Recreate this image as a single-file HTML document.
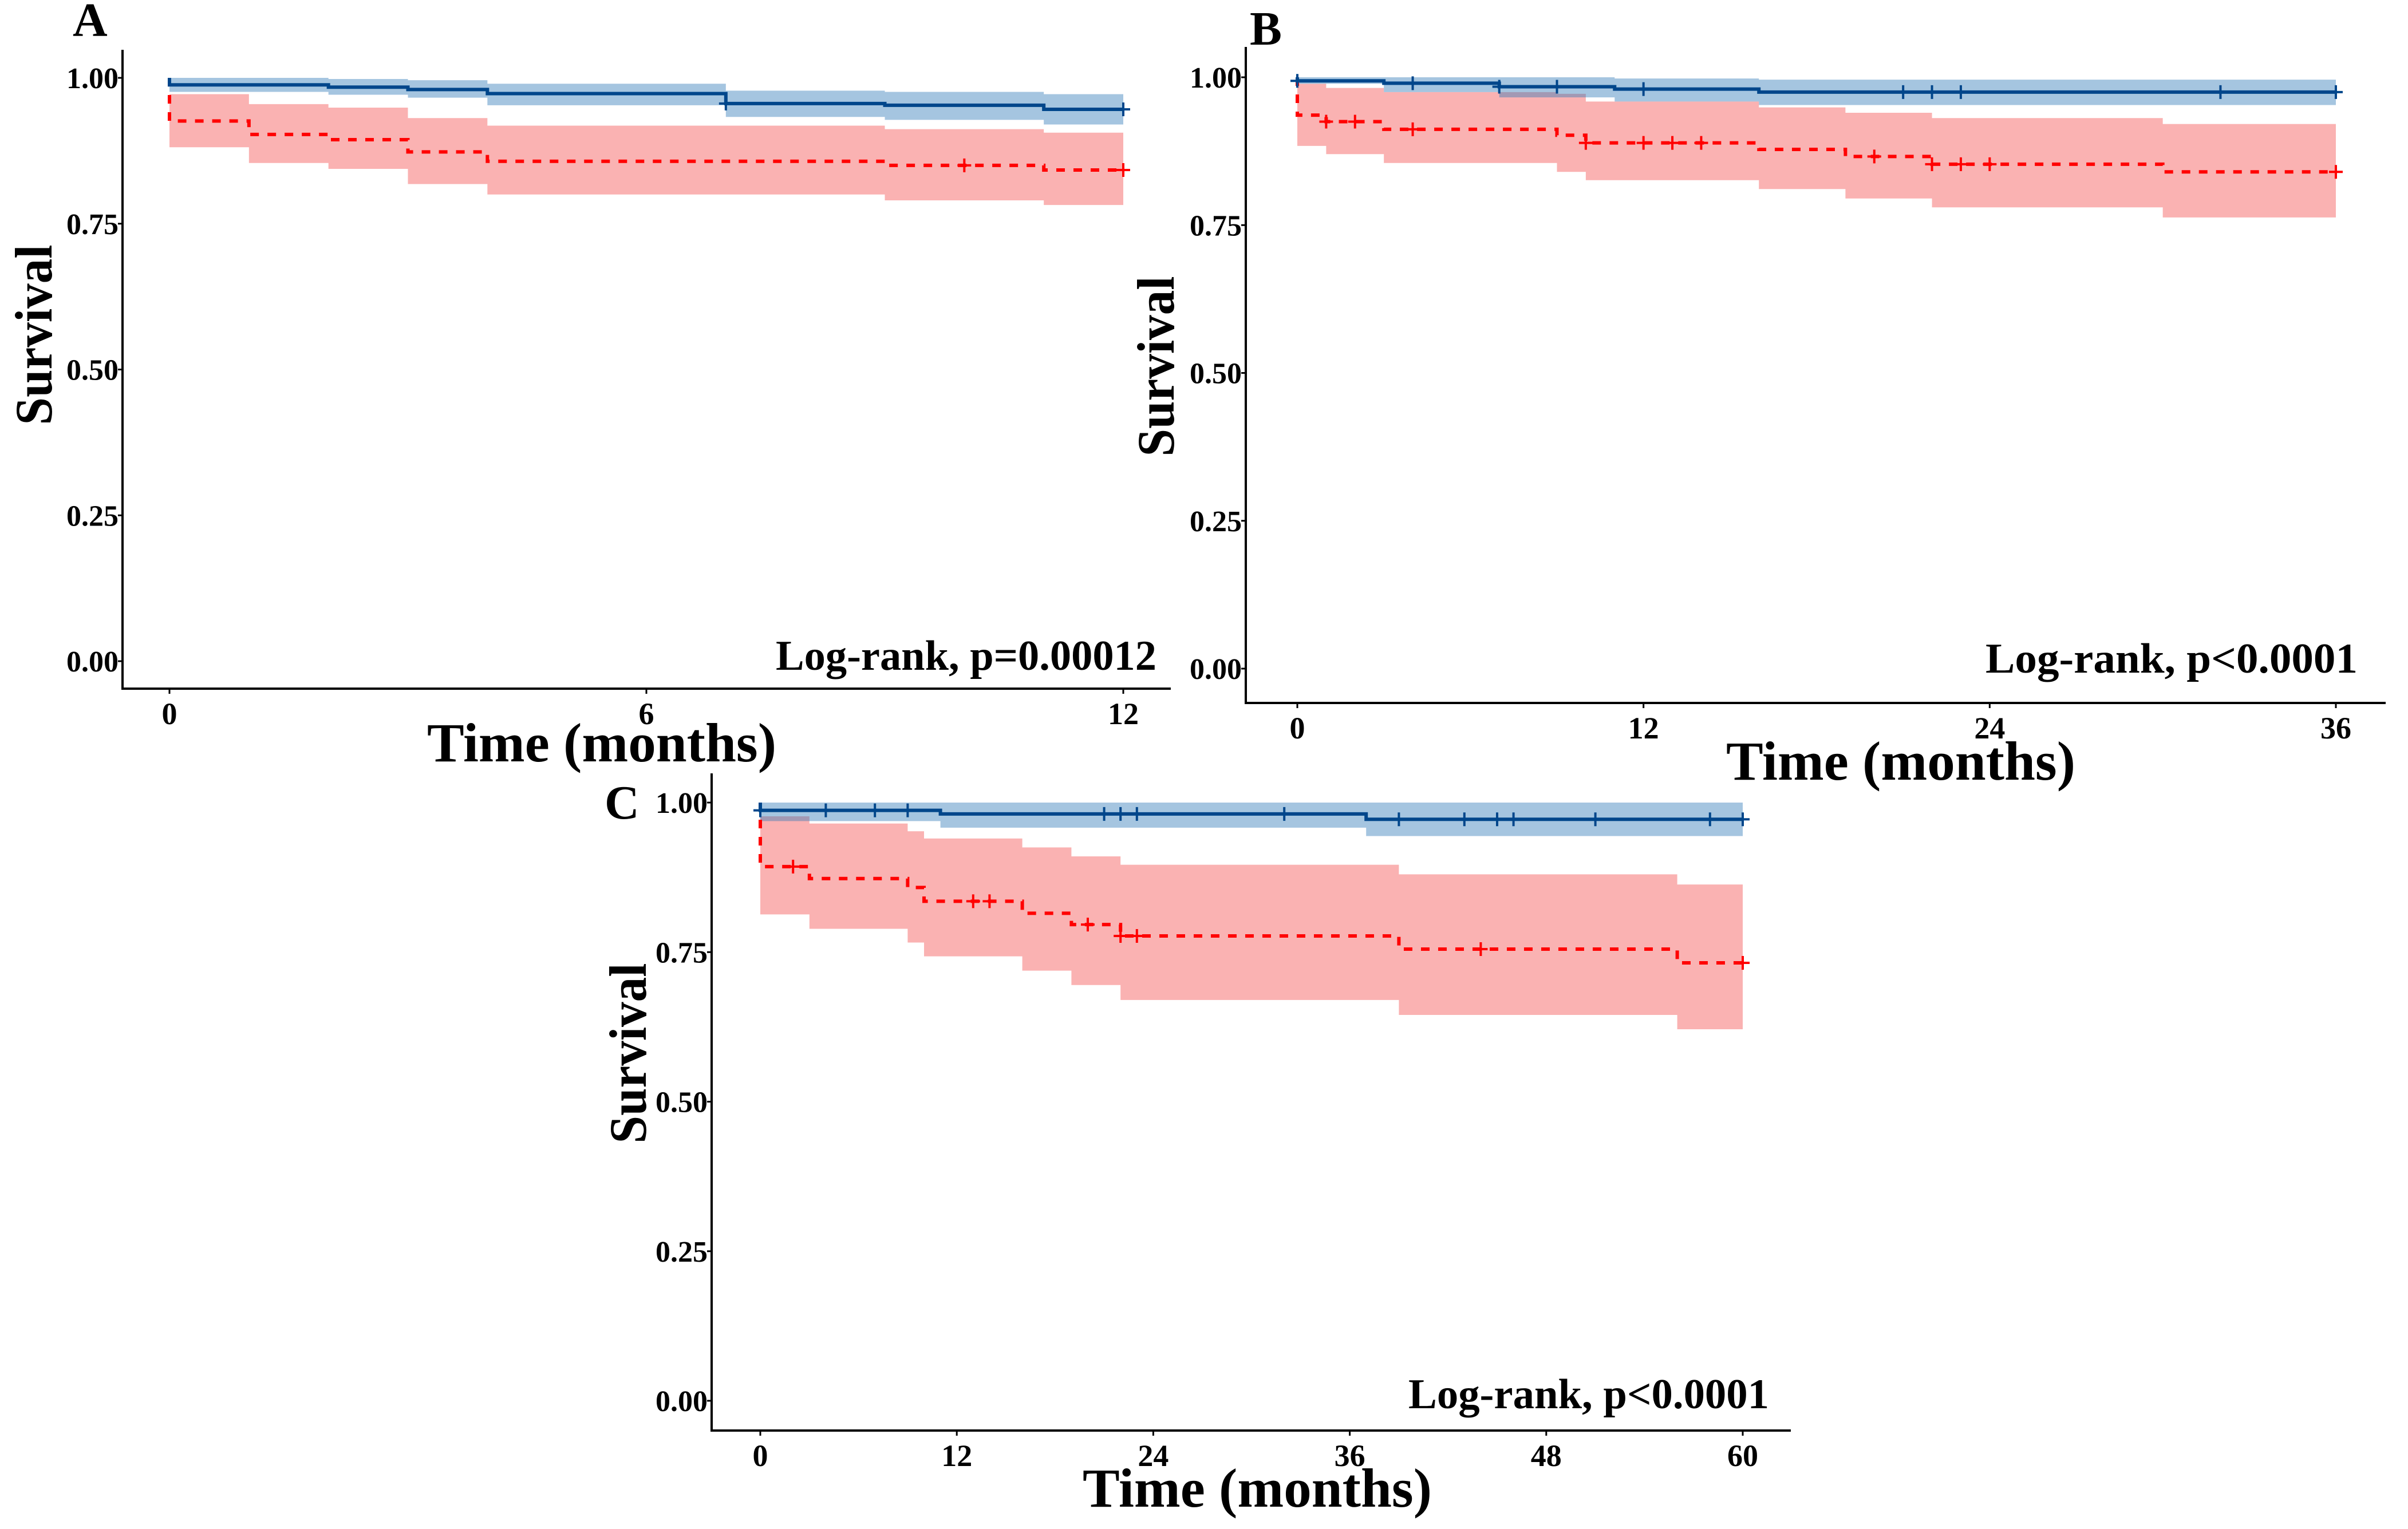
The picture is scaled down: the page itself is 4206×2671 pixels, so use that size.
<!DOCTYPE html>
<html><head><meta charset="utf-8"><style>
html,body{margin:0;padding:0;background:#fff;}
svg{display:block;}
text{font-family:"Liberation Serif",serif;font-weight:bold;fill:#000;}
</style></head><body>
<svg id="fig" width="4206" height="2671" viewBox="0 0 4206 2671" xmlns="http://www.w3.org/2000/svg"></svg>
<script>
// ---------- Panel A data ----------
const aBlueTimes = [0, 2, 3, 4, 7, 9, 11];
const aBlueSurv  = [0.988, 0.984, 0.980, 0.973, 0.956, 0.953, 0.946];
const aBlueUpper = [1.000, 0.998, 0.996, 0.990, 0.978, 0.976, 0.972];
const aBlueLower = [0.976, 0.971, 0.966, 0.953, 0.933, 0.928, 0.920];
const aBlueCens  = [7, 12];
const aRedTimes  = [0, 1, 2, 3, 4, 9, 11];
const aRedSurv   = [0.926, 0.903, 0.894, 0.873, 0.857, 0.850, 0.842];
const aRedUpper  = [0.972, 0.955, 0.949, 0.931, 0.918, 0.912, 0.906];
const aRedLower  = [0.881, 0.854, 0.844, 0.818, 0.800, 0.790, 0.782];
const aRedCens   = [10, 12];
const aEnd = 12;
const aTicks = [0, 6, 12];
// ---------- Panel B data ----------
const bBlueTimes = [0, 3, 7, 11, 16];
const bBlueSurv  = [0.994, 0.990, 0.984, 0.980, 0.975];
const bBlueUpper = [1.000, 1.000, 1.000, 0.998, 0.996];
const bBlueLower = [0.989, 0.975, 0.966, 0.959, 0.953];
const bBlueCens  = [0, 4, 7, 9, 12, 21, 22, 23, 32, 36];
const bRedTimes  = [0, 1, 3, 9, 10, 16, 19, 22, 30];
const bRedSurv   = [0.936, 0.925, 0.912, 0.902, 0.889, 0.878, 0.866, 0.853, 0.840];
const bRedUpper  = [0.989, 0.982, 0.975, 0.972, 0.959, 0.949, 0.940, 0.931, 0.921];
const bRedLower  = [0.884, 0.870, 0.855, 0.840, 0.826, 0.811, 0.795, 0.780, 0.763];
const bRedCens   = [1, 2, 4, 10, 12, 13, 14, 20, 22, 23, 24, 36];
const bEnd = 36;
const bTicks = [0, 12, 24, 36];
// ---------- Panel C data ----------
const cBlueTimes = [0, 11, 37];
const cBlueSurv  = [0.987, 0.981, 0.972];
const cBlueUpper = [1.000, 1.000, 1.000];
const cBlueLower = [0.969, 0.958, 0.944];
const cBlueCens  = [0, 4, 7, 9, 21, 22, 23, 32, 39, 43, 45, 46, 51, 58, 60];
const cRedTimes  = [0, 3, 9, 10, 16, 19, 22, 39, 56];
const cRedSurv   = [0.893, 0.873, 0.858, 0.835, 0.815, 0.796, 0.777, 0.755, 0.732];
const cRedUpper  = [0.977, 0.965, 0.952, 0.940, 0.925, 0.910, 0.896, 0.880, 0.863];
const cRedLower  = [0.813, 0.789, 0.766, 0.743, 0.719, 0.695, 0.670, 0.645, 0.621];
const cRedCens   = [2, 13, 14, 20, 22, 23, 44, 60];
const cEnd = 60;
const cTicks = [0, 12, 24, 36, 48, 60];
const yTicks = [0, 0.25, 0.5, 0.75, 1.0];
const yTickLabels = ["0.00", "0.25", "0.50", "0.75", "1.00"];

const NS = "http://www.w3.org/2000/svg";
const svg = document.getElementById('fig');
function mk(tag, attrs, parent) {
  const e = document.createElementNS(NS, tag);
  for (const k in attrs) e.setAttribute(k, attrs[k]);
  (parent || svg).appendChild(e);
  return e;
}
function stepVal(times, surv, t) {
  let v = 1;
  for (let i = 0; i < times.length; i++) if (t >= times[i]) v = surv[i];
  return v;
}
function drawPanel(p) {
  const g = mk('g', {});
  
  
  const X = t => p.x0 + (t / p.end) * (p.x1 - p.x0);
  const Y = v => p.y0 + (1 - v) * (p.yZero - p.y0);
  function ribbon(times, up, lo, color, op, name) {
    let top = '', bot = [];
    for (let i = 0; i < times.length; i++) {
      const a = X(times[i]), b = X(i + 1 < times.length ? times[i + 1] : p.end);
      top += (i === 0 ? 'M' : 'L') + a + ',' + Y(up[i]) + 'L' + b + ',' + Y(up[i]);
      bot.unshift('L' + b + ',' + Y(lo[i]) + 'L' + a + ',' + Y(lo[i]));
    }
    const r = mk('path', {d: top + bot.join('') + 'Z', fill: color, 'fill-opacity': op}, g);
    
    
  }
  ribbon(p.rT, p.rU, p.rL, '#ED0000', 0.3, 'ci-band-red');
  ribbon(p.bT, p.bU, p.bL, '#2f78b8', 0.43, 'ci-band-blue');
  function curve(times, surv, color, dash, name, cens) {
    let d = 'M' + X(0) + ',' + Y(1);
    for (let i = 0; i < times.length; i++) {
      d += 'L' + X(times[i]) + ',' + Y(i === 0 ? 1 : surv[i - 1]) + 'L' + X(times[i]) + ',' + Y(surv[i]);
    }
    d += 'L' + X(p.end) + ',' + Y(surv[surv.length - 1]);
    const l = mk('path', {d: d, fill: 'none', stroke: color, 'stroke-width': 6, 'stroke-dasharray': dash}, g);
    
    
    cens.forEach(t => {
      const cx = X(t), cy = Y(stepVal(times, surv, t));
      const c = mk('path', {d: 'M' + (cx - 12) + ',' + cy + 'L' + (cx + 12) + ',' + cy + 'M' + cx + ',' + (cy - 12) + 'L' + cx + ',' + (cy + 12), stroke: color, 'stroke-width': 4}, g);
      
      
    });
  }
  curve(p.rT, p.rS, '#FF0000', '15 15', 'curve-red', p.rC);
  curve(p.bT, p.bS, '#00468B', 'none', 'curve-blue', p.bC);
  const ya = mk('line', {x1: p.ax, y1: p.atop, x2: p.ax, y2: p.ay, stroke: '#000', 'stroke-width': 4}, g);
  
  
  const xa = mk('line', {x1: p.ax - 2, y1: p.ay, x2: p.axEnd, y2: p.ay, stroke: '#000', 'stroke-width': 4}, g);
  
  
  yTicks.forEach((v, i) => {
    mk('line', {x1: p.ax - 8, y1: Y(v), x2: p.ax, y2: Y(v), stroke: '#000', 'stroke-width': 3}, g);
    const t = mk('text', {x: p.ax - 7, y: Y(v) + 18, 'font-size': 52, 'text-anchor': 'end'}, g);
    t.textContent = yTickLabels[i];
    
    
  });
  p.ticks.forEach(v => {
    mk('line', {x1: X(v), y1: p.ay, x2: X(v), y2: p.ay + 9, stroke: '#000', 'stroke-width': 3}, g);
    const t = mk('text', {x: X(v), y: p.ay + 62, 'font-size': 54, 'text-anchor': 'middle'}, g);
    t.textContent = String(v);
    
    
  });
  const xl = mk('text', {x: p.xlx, y: p.xly, 'font-size': 96, 'text-anchor': 'middle', textLength: 610, lengthAdjust: 'spacingAndGlyphs'}, g);
  xl.textContent = 'Time (months)';
  
  
  const yl = mk('text', {x: 0, y: 0, 'font-size': 92, 'text-anchor': 'middle', textLength: 315, lengthAdjust: 'spacingAndGlyphs', transform: 'translate(' + p.ylx + ',' + p.yly + ') rotate(-90)'}, g);
  yl.textContent = 'Survival';
  
  
  const lr = mk('text', {x: p.lrx, y: p.lry, 'font-size': 74, 'text-anchor': 'end', textLength: p.lrw, lengthAdjust: 'spacingAndGlyphs'}, g);
  lr.textContent = p.lrText;
  
  
  const pl = mk('text', {x: p.px, y: p.py, 'font-size': 84}, g);
  pl.textContent = p.id;
  
  
}
drawPanel({id: 'A', x0: 296, x1: 1962, end: aEnd, y0: 136, yZero: 1155, ax: 214, atop: 87, ay: 1203, axEnd: 2045,
  ticks: aTicks, bT: aBlueTimes, bS: aBlueSurv, bU: aBlueUpper, bL: aBlueLower, bC: aBlueCens,
  rT: aRedTimes, rS: aRedSurv, rU: aRedUpper, rL: aRedLower, rC: aRedCens,
  xlx: 1051, xly: 1330, ylx: 90, yly: 585, lrx: 2020, lry: 1170, lrw: 665, lrText: 'Log-rank, p=0.00012', px: 127, py: 63});
drawPanel({id: 'B', x0: 2266, x1: 4080, end: bEnd, y0: 135, yZero: 1168, ax: 2176, atop: 82, ay: 1228, axEnd: 4167,
  ticks: bTicks, bT: bBlueTimes, bS: bBlueSurv, bU: bBlueUpper, bL: bBlueLower, bC: bBlueCens,
  rT: bRedTimes, rS: bRedSurv, rU: bRedUpper, rL: bRedLower, rC: bRedCens,
  xlx: 3320, xly: 1362, ylx: 2050, yly: 640, lrx: 4118, lry: 1175, lrw: 650, lrText: 'Log-rank, p<0.0001', px: 2183, py: 78});
drawPanel({id: 'C', x0: 1328, x1: 3044, end: cEnd, y0: 1402, yZero: 2447, ax: 1243, atop: 1351, ay: 2499, axEnd: 3128,
  ticks: cTicks, bT: cBlueTimes, bS: cBlueSurv, bU: cBlueUpper, bL: cBlueLower, bC: cBlueCens,
  rT: cRedTimes, rS: cRedSurv, rU: cRedUpper, rL: cRedLower, rC: cRedCens,
  xlx: 2196, xly: 2632, ylx: 1128, yly: 1840, lrx: 3090, lry: 2460, lrw: 630, lrText: 'Log-rank, p<0.0001', px: 1056, py: 1430});
</script>
</body></html>
